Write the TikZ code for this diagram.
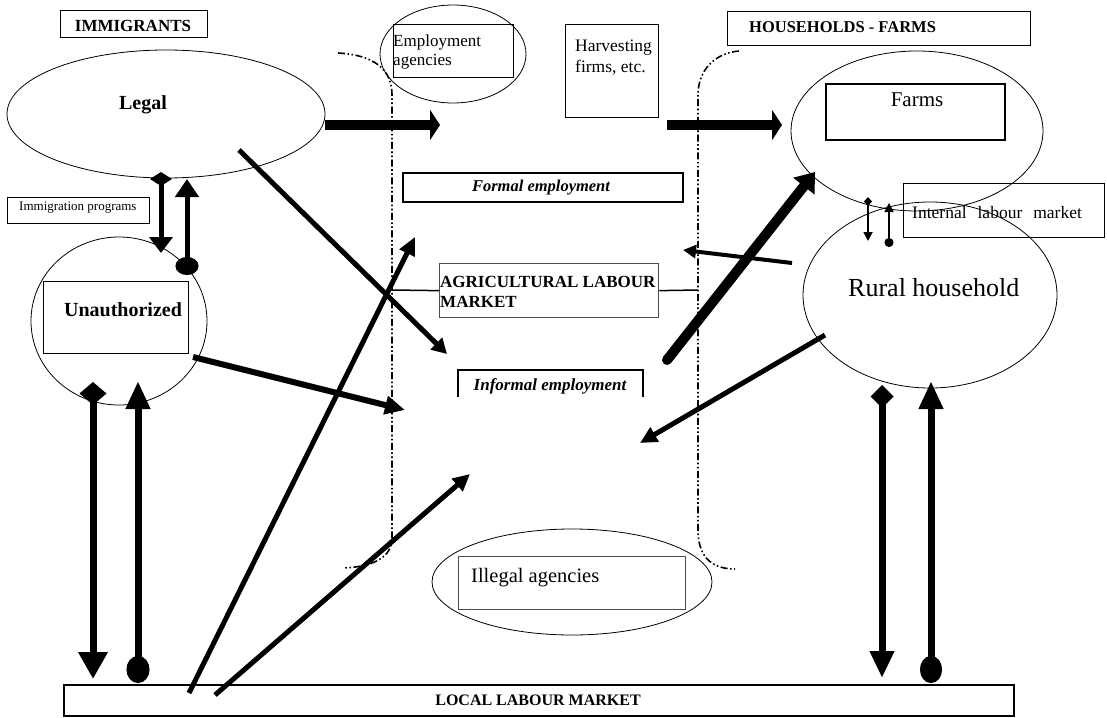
\documentclass[tikz,border=0pt]{standalone}
\usepackage{fontspec}
\setmainfont{Liberation Serif}
\usetikzlibrary{arrows.meta,shapes.geometric}
\begin{document}
\begin{tikzpicture}[x=1pt,y=-1pt,
  ell/.style={ellipse, draw, line width=0.8pt, inner sep=0pt},
  box/.style={rectangle, draw, line width=1pt, inner sep=0pt, anchor=north west},
  thickbox/.style={box, line width=2pt},
  txt/.style={inner sep=0pt, anchor=base west},
  ddd/.style={line width=1.6pt, dash pattern=on 7pt off 2.5pt on 1.6pt off 2.5pt on 1.6pt off 2.5pt},
  arr/.style={draw=black, line cap=butt},
]
\useasboundingbox (0,0) rectangle (1107,717);

% ---------- ellipses ----------
\node[ell, minimum width=318pt, minimum height=128pt] (legal) at (166,114) {};
\node[ell, minimum width=176pt, minimum height=168pt] (unauth) at (119,321) {};
\node[ell, minimum width=146pt, minimum height=98pt] (empag) at (453,54) {};
\node[ell, minimum width=252pt, minimum height=160pt] (farmsell) at (917,131) {};
\node[ell, minimum width=254pt, minimum height=186pt] (rural) at (930,295) {};
\node[ell, minimum width=280pt, minimum height=106pt] (illegal) at (572,582) {};

% ---------- boxes ----------
\node[box, minimum width=147pt, minimum height=27pt] (immbox) at (60,10) {};
\node[box, minimum width=120pt, minimum height=53pt] (empbox) at (393,24) {};
\node[box, minimum width=93pt, minimum height=93pt] (harvbox) at (565,24) {};
\node[box, minimum width=303pt, minimum height=34pt] (hhbox) at (727,11) {};
\node[thickbox, minimum width=179pt, minimum height=56pt] (farmsbox) at (825,83) {};
\node[thickbox, minimum width=280pt, minimum height=29pt] (formalbox) at (402,172) {};
\node[box, draw=black!70, line width=1.3pt, minimum width=219pt, minimum height=54pt] (agribox) at (439,263) {};
\node[box, minimum width=142pt, minimum height=26pt] (immprog) at (7,197) {};
\node[box, line width=1.3pt, minimum width=145pt, minimum height=72pt] (unauthbox) at (43,281) {};
\node[box, minimum width=201pt, minimum height=54pt] (intlab) at (903,183) {};
\node[box, draw=black!70, line width=1.3pt, minimum width=227pt, minimum height=53pt] (illbox) at (458,556) {};
\node[box, line width=1.5pt, minimum width=950pt, minimum height=31pt] (localbox) at (63,684) {};

% informal employment (open box)
\coordinate (inf1) at (458,397);
\coordinate (inf2) at (458,370);
\coordinate (inf3) at (643,370);
\coordinate (inf4) at (643,397);
\draw[line width=2pt] (inf1) -- (inf2) -- (inf3) -- (inf4);

% ---------- texts ----------
\node[txt, anchor=base, font={\fontsize{17}{20}\selectfont\bfseries}] (timm) at (133,32) {IMMIGRANTS};
\node[txt, anchor=base, font={\fontsize{20}{24}\selectfont\bfseries}] (tlegal) at (143,109) {Legal};
\node[txt, font={\fontsize{17}{20}\selectfont}] (temp1) at (393,46) {Employment};
\node[txt, font={\fontsize{17}{20}\selectfont}] (temp2) at (393,65) {agencies};
\node[txt, font={\fontsize{17.5}{20}\selectfont}] (tharv1) at (575,52) {Harvesting};
\node[txt, font={\fontsize{17.5}{20}\selectfont}] (tharv2) at (575,72) {firms, etc.};
\node[txt, font={\fontsize{16.5}{20}\selectfont\bfseries}] (thh) at (749,33) {HOUSEHOLDS - FARMS};
\node[txt, anchor=base, font={\fontsize{21}{24}\selectfont}] (tfarms) at (917,106) {Farms};
\node[txt, anchor=base, font={\fontsize{16.5}{20}\selectfont\bfseries\itshape}] (tformal) at (541,191) {Formal employment};
\node[txt, font={\fontsize{17}{20}\selectfont\bfseries}] (tagri1) at (440,287) {AGRICULTURAL LABOUR};
\node[txt, font={\fontsize{17}{20}\selectfont\bfseries}] (tagri2) at (440,307) {MARKET};
\node[txt, anchor=base, font={\fontsize{17}{20}\selectfont\bfseries\itshape}] (tinf) at (550,390) {Informal employment};
\node[txt, font={\fontsize{13}{16}\selectfont}] (timmprog) at (19,210) {Immigration programs};
\node[txt, anchor=base, font={\fontsize{20}{24}\selectfont\bfseries}] (tunauth) at (123,316) {Unauthorized};
\node[txt, font={\fontsize{17.5}{20}\selectfont}] (tint) at (912,218) {Internal\hspace{11pt}labour\hspace{11pt}market};
\node[txt, font={\fontsize{26}{30}\selectfont}] (trural) at (848,296) {Rural household};
\node[txt, font={\fontsize{20.5}{24}\selectfont}] (till) at (471,582) {Illegal agencies};
\node[txt, anchor=base, font={\fontsize{16}{20}\selectfont\bfseries}] (tlocal) at (538,705) {LOCAL LABOUR MARKET};

% ---------- dash-dot boundaries ----------
\coordinate (ld0) at (338,53);
\coordinate (ld1) at (392,95);
\coordinate (ld2) at (392,538);
\coordinate (ld3) at (343,568);
\draw[ddd] (ld0) .. controls (375,55) and (392,70) .. (ld1) -- (ld2) .. controls (392,558) and (372,567) .. (ld3);
\coordinate (rd0) at (739,51);
\coordinate (rd1) at (698,95);
\coordinate (rd2) at (698,530);
\coordinate (rd3) at (735,569);
\draw[ddd] (rd0) .. controls (715,53) and (698,70) .. (rd1) -- (rd2) .. controls (698,560) and (715,569) .. (rd3);

\coordinate (lmid) at (392,290);
\coordinate (rmid) at (698,290);
\draw[line width=1.5pt] (lmid) -- (agribox.west);
\draw[line width=1.5pt] (agribox.east) -- (rmid);

% ---------- arrows ----------
\coordinate (a1s) at (161,172); \coordinate (a1e) at (161,253);
\draw[arr, line width=5pt, {Diamond[length=14pt,width=22pt]}-{Triangle[length=16pt,width=23pt]}] (a1s) -- (a1e);
\coordinate (a2s) at (187,275); \coordinate (a2e) at (187,179);
\draw[arr, line width=5pt, {Ellipse[length=18pt,width=23pt]}-{Triangle[length=18pt,width=23pt]}] (a2s) -- (a2e);

\coordinate (a3s) at (325,125); \coordinate (a3e) at (440,125);
\draw[arr, line width=10pt, -{Triangle[length=10pt,width=30pt]}] (a3s) -- (a3e);
\coordinate (a4s) at (667,125); \coordinate (a4e) at (782,125);
\draw[arr, line width=10pt, -{Triangle[length=10pt,width=30pt]}] (a4s) -- (a4e);

\coordinate (a5s) at (239,150); \coordinate (a5e) at (447,354);
\draw[arr, line width=5pt, -{Triangle[length=15pt,width=16pt]}] (a5s) -- (a5e);
\coordinate (a6s) at (189,693); \coordinate (a6e) at (415,237);
\draw[arr, line width=5pt, -{Triangle[length=18pt,width=16pt]}] (a6s) -- (a6e);
\coordinate (a7s) at (215,695); \coordinate (a7e) at (470,474);
\draw[arr, line width=5pt, -{Triangle[length=17pt,width=16pt]}] (a7s) -- (a7e);
\coordinate (a8s) at (193,357); \coordinate (a8e) at (405,410);
\draw[arr, line width=6pt, -{Triangle[length=20pt,width=18pt]}] (a8s) -- (a8e);
\coordinate (a9s) at (792,263); \coordinate (a9e) at (683,250);
\draw[arr, line width=4pt, -{Triangle[length=13pt,width=13pt]}] (a9s) -- (a9e);
\coordinate (a10s) at (667,360); \coordinate (a10e) at (815,172);
\draw[arr, line width=10pt, line cap=round, -{Triangle[length=18pt,width=26pt]}] (a10s) -- (a10e);
\coordinate (a11s) at (825,335); \coordinate (a11e) at (640,443);
\draw[arr, line width=5pt, -{Triangle[length=17pt,width=16pt]}] (a11s) -- (a11e);

\coordinate (a12s) at (868,197); \coordinate (a12e) at (868,241);
\draw[arr, line width=1.8pt, {Diamond[length=9pt,width=8pt]}-{Triangle[length=9pt,width=9pt]}] (a12s) -- (a12e);
\coordinate (a13s) at (889,247); \coordinate (a13e) at (889,203);
\draw[arr, line width=1.8pt, {Circle[length=9pt]}-{Triangle[length=9pt,width=9pt]}] (a13s) -- (a13e);

\coordinate (a14s) at (93,382); \coordinate (a14e) at (93,679);
\draw[arr, line width=7pt, {Diamond[length=23pt,width=27pt]}-{Triangle[length=27pt,width=28pt]}] (a14s) -- (a14e);
\coordinate (a15s) at (138,683); \coordinate (a15e) at (138,381);
\draw[arr, line width=7pt, {Ellipse[length=27pt,width=23pt]}-{Triangle[length=28pt,width=23pt]}] (a15s) -- (a15e);
\coordinate (a16s) at (882,385); \coordinate (a16e) at (882,678);
\draw[arr, line width=7pt, {Diamond[length=23pt,width=23pt]}-{Triangle[length=27pt,width=23pt]}] (a16s) -- (a16e);
\coordinate (a17s) at (931,683); \coordinate (a17e) at (931,381);
\draw[arr, line width=7pt, {Ellipse[length=27pt,width=22pt]}-{Triangle[length=28pt,width=23pt]}] (a17s) -- (a17e);
\end{tikzpicture}
\end{document}
